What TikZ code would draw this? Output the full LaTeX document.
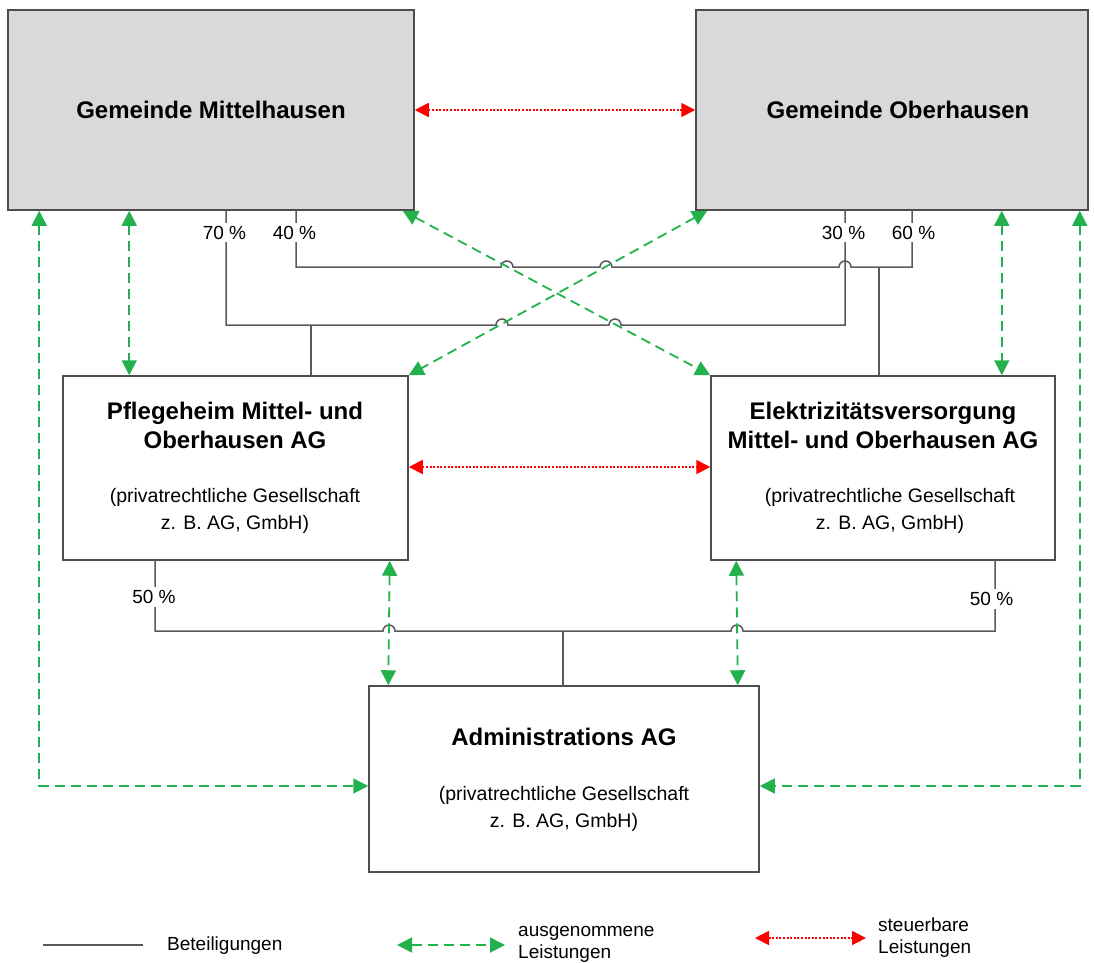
\documentclass[tikz,border=0pt]{standalone}
\usepackage{fontspec}
\setmainfont{Liberation Sans}
\usetikzlibrary{arrows.meta}
\definecolor{boxgray}{HTML}{D9D9D9}
\definecolor{linegray}{HTML}{5A5A5A}
\definecolor{bordergray}{HTML}{4D4D4D}
\definecolor{ggreen}{HTML}{22B14C}
\definecolor{rred}{HTML}{FF0000}
\begin{document}
\begin{tikzpicture}[x=1pt,y=-1pt,
  gemeinde/.style={draw=bordergray, fill=boxgray, line width=1.5pt, inner sep=0pt,
    font=\fontsize{24}{29}\selectfont\bfseries},
  firm/.style={draw=bordergray, fill=white, line width=1.5pt, inner sep=0pt},
  titletext/.style={align=center, inner sep=0pt, font=\fontsize{24}{29}\selectfont\bfseries},
  subtext/.style={align=center, inner sep=0pt, font=\fontsize{19.5}{27}\selectfont},
  pct/.style={fill=white, inner xsep=1pt, inner ysep=3pt, font=\fontsize{19}{22}\selectfont},
  own/.style={draw=linegray, line width=1.5pt},
  gline/.style={draw=ggreen, line width=1.8pt, dash pattern=on 10pt off 6pt,
    {Triangle[length=15pt,width=15pt]}-{Triangle[length=15pt,width=15pt]}},
  rline/.style={draw=rred, line width=1.8pt, dash pattern=on 2pt off 1.6pt,
    {Triangle[length=14pt,width=14pt]}-{Triangle[length=14pt,width=14pt]}},
  legendtext/.style={font=\fontsize{19}{22}\selectfont, align=left, anchor=west, inner sep=0pt}
]
\useasboundingbox (0,0) rectangle (1094,962);

% boxes
\node[gemeinde, minimum width=406pt, minimum height=200pt] (A) at (211,110) {Gemeinde Mittelhausen};
\node[gemeinde, minimum width=392pt, minimum height=200pt] (B) at (892,110) {\hspace*{12pt}Gemeinde Oberhausen};
\node[firm, minimum width=345pt, minimum height=184pt] (C) at (235.5,468) {};
\node[firm, minimum width=344pt, minimum height=184pt] (D) at (883,468) {};
\node[firm, minimum width=390pt, minimum height=186pt] (E) at (564,779) {};

\node[titletext] (Ct) at (235,425.5) {Pflegeheim Mittel- und\\Oberhausen AG};
\node[subtext] (Cs) at (235,510.5) {(privatrechtliche Gesellschaft\\z. B. AG, GmbH)};
\node[titletext] (Dt) at (883,425.5) {Elektrizitätsversorgung\\Mittel- und Oberhausen AG};
\node[subtext] (Ds) at (890,510.5) {(privatrechtliche Gesellschaft\\z. B. AG, GmbH)};
\node[titletext] (Et) at (564,737) {Administrations AG};
\node[subtext] (Es) at (564,809) {(privatrechtliche Gesellschaft\\z. B. AG, GmbH)};

% ownership lines (Beteiligungen)
\coordinate (a70) at (226,210);
\coordinate (a40) at (296,210);
\coordinate (b30) at (845,210);
\coordinate (b60) at (912,210);
\coordinate (c50) at (155,560);
\coordinate (d50) at (995,560);

\draw[own] (a70) -- (226,325) -- (496,325) arc[start angle=180,end angle=0,radius=6pt]
  -- (609,325) arc[start angle=180,end angle=0,radius=6pt] -- (845,325) -- (b30);
\draw[own] (311,325) -- (C.north -| 311,0);
\draw[own] (a40) -- (296,267) -- (501,267) arc[start angle=180,end angle=0,radius=6pt]
  -- (600,267) arc[start angle=180,end angle=0,radius=6pt]
  -- (839,267) arc[start angle=180,end angle=0,radius=6pt] -- (912,267) -- (b60);
\draw[own] (879,267) -- (D.north -| 879,0);
\draw[own] (c50) -- (155,631) -- (383,631) arc[start angle=180,end angle=0,radius=6pt]
  -- (731,631) arc[start angle=180,end angle=0,radius=6pt] -- (995,631) -- (d50);
\draw[own] (563,631) -- (E.north -| 563,0);

% percent labels
\node[pct] (p70) at (224.5,232.5) {70 \%};
\node[pct] (p40) at (294.5,232.5) {40 \%};
\node[pct] (p30) at (843.5,232.5) {30 \%};
\node[pct] (p60) at (913.5,232.5) {60 \%};
\node[pct] (p50a) at (154,597) {50 \%};
\node[pct] (p50b) at (991.5,599) {50 \%};

% green: ausgenommene Leistungen
\draw[gline] ([xshift=122pt]A.south west) -- ([xshift=67pt]C.north west);
\draw[gline] ([xshift=-12pt]A.south east) -- (D.north west);
\draw[gline] ([xshift=12pt]B.south west) -- (C.north east);
\draw[gline] ([xshift=-87pt]B.south east) -- ([xshift=-54pt]D.north east);
\draw[gline] ([xshift=32pt]A.south west) |- ([yshift=-7pt]E.west);
\draw[gline] ([xshift=-9pt]B.south east) |- ([yshift=-7pt]E.east);
\draw[gline] ([xshift=-19pt]C.south east) -- ([xshift=20pt]E.north west);
\draw[gline] ([xshift=26pt]D.south west) -- ([xshift=-22pt]E.north east);

% red: steuerbare Leistungen
\draw[rline] (A.east) -- (B.west);
\draw[rline] ([yshift=1pt]C.east) -- ([yshift=1pt]D.west);

% legend
\coordinate (l1a) at (43,945);
\coordinate (l1b) at (143,945);
\draw[own] (l1a) -- (l1b);
\node[legendtext] (l1t) at (167,946) {Beteiligungen};
\coordinate (l2a) at (397,945);
\coordinate (l2b) at (505,945);
\draw[gline] (l2a) -- (l2b);
\node[legendtext] (l2t) at (518,944) {ausgenommene\\Leistungen};
\coordinate (l3a) at (755,938);
\coordinate (l3b) at (866,938);
\draw[rline] (l3a) -- (l3b);
\node[legendtext] (l3t) at (878,938) {steuerbare\\Leistungen};
\end{tikzpicture}
\end{document}
